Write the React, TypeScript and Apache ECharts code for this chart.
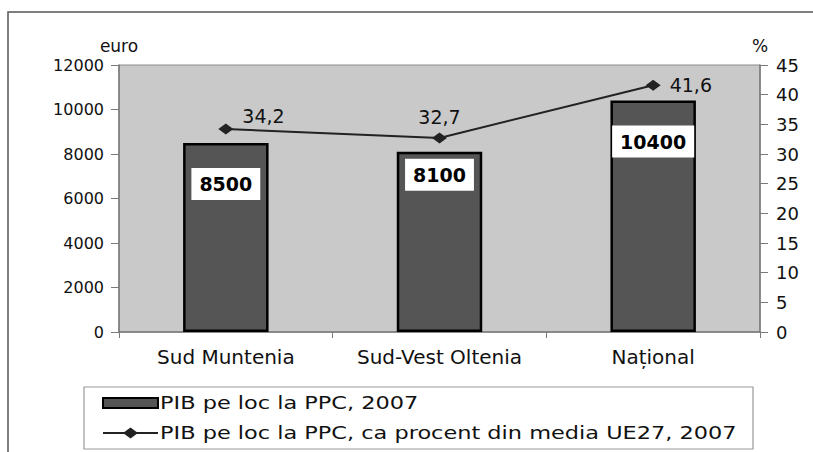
import React, { useEffect, useRef } from "react";
import * as echarts from "echarts";

const categories = ["Sud Muntenia", "Sud-Vest Oltenia", "Național"];
const gdpValues = [8500, 8100, 10400];
const pctValues = [34.2, 32.7, 41.6];
const leftTicks = { min: 0, max: 12000, interval: 2000 };
const rightTicks = { min: 0, max: 45, interval: 5 };
const barName = "PIB pe loc la PPC, 2007";
const lineName = "PIB pe loc la PPC, ca procent din media UE27, 2007";
const leftUnit = "euro";
const rightUnit = "%";

const FONT = "DejaVu Sans";

const barLabelDistances = [25, 7, 25];
const lineLabelStyles = [
  { position: "right", distance: 9, offset: [0, -13] },
  { position: "top", distance: 6, offset: [0, 0] },
  { position: "right", distance: 9, offset: [0, 0] },
];

const BAR_COLOR = "#555555";
const LINE_COLOR = "#222222";

export default function App() {
  const ref = useRef<HTMLDivElement>(null);
  useEffect(() => {
    if (!ref.current) return;
    const chart = echarts.init(ref.current, undefined, { renderer: "svg" });
    const axisColor = "#7a7a7a";
    const legendTextStyle = { fontFamily: FONT, fontSize: 17, fill: "#111", verticalAlign: "middle" };
    chart.setOption({
      animation: false,
      backgroundColor: "#ffffff",
      textStyle: { fontFamily: FONT },
      grid: {
        left: 119,
        right: 53,
        top: 65,
        bottom: 120,
        show: true,
        backgroundColor: "#c9c9c9",
        borderColor: "#8a8a8a",
        borderWidth: 1,
      },
      graphic: [
        {
          type: "rect",
          z: -10,
          shape: { x: 8, y: 12, width: 830, height: 470 },
          style: { fill: "none", stroke: "#555", lineWidth: 1.5 },
        },
        {
          type: "group",
          z: 10,
          children: [
            {
              type: "rect",
              shape: { x: 84, y: 387, width: 669, height: 62 },
              style: { fill: "#fff", stroke: "#999", lineWidth: 1.2 },
            },
            {
              type: "rect",
              shape: { x: 103, y: 398, width: 55, height: 10 },
              style: { fill: BAR_COLOR, stroke: "#000", lineWidth: 2 },
            },
            {
              type: "text",
              x: 160,
              y: 403,
              scaleX: 1.32,
              style: { ...legendTextStyle, text: barName },
            },
            {
              type: "line",
              shape: { x1: 103, y1: 433, x2: 158, y2: 433 },
              style: { stroke: LINE_COLOR, lineWidth: 2 },
            },
            {
              type: "polygon",
              shape: { points: [[123, 433], [130.5, 427.5], [138, 433], [130.5, 438.5]] },
              style: { fill: LINE_COLOR },
            },
            {
              type: "text",
              x: 160,
              y: 433,
              scaleX: 1.32,
              style: { ...legendTextStyle, text: lineName },
            },
          ],
        },
      ],
      xAxis: {
        type: "category",
        data: categories,
        axisLine: { lineStyle: { color: axisColor, width: 1.5 } },
        axisTick: { show: true, length: 6, lineStyle: { color: axisColor } },
        axisLabel: { fontFamily: FONT, fontSize: 20, color: "#111", margin: 15, interval: 0, hideOverlap: false },
        splitLine: { show: false },
      },
      yAxis: [
        {
          type: "value",
          ...leftTicks,
          position: "left",
          name: leftUnit,
          nameLocation: "end",
          nameGap: 11,
          nameTextStyle: { fontFamily: FONT, fontSize: 17, color: "#111" },
          axisLine: { show: true, lineStyle: { color: axisColor, width: 1.5 } },
          axisTick: { show: true, length: 8, lineStyle: { color: axisColor } },
          axisLabel: {
            fontFamily: FONT,
            fontSize: 16,
            color: "#111",
            margin: 15,
            formatter: (v: number) => String(v),
          },
          splitLine: { show: false },
        },
        {
          type: "value",
          ...rightTicks,
          position: "right",
          name: rightUnit,
          nameLocation: "end",
          nameGap: 11,
          nameTextStyle: { fontFamily: FONT, fontSize: 17, color: "#111" },
          axisLine: { show: true, lineStyle: { color: axisColor, width: 1.5 } },
          axisTick: { show: true, length: 8, lineStyle: { color: axisColor } },
          axisLabel: { fontFamily: FONT, fontSize: 18, color: "#111", margin: 16 },
          splitLine: { show: false },
        },
      ],
      series: [
        {
          name: barName,
          type: "bar",
          yAxisIndex: 0,
          barWidth: "40%",
          itemStyle: { color: BAR_COLOR, borderColor: "#000000", borderWidth: 2.5 },
          data: gdpValues.map((v, i) => ({
            value: v,
            label: {
              show: true,
              position: "insideTop",
              distance: barLabelDistances[i],
              backgroundColor: "#ffffff",
              padding: [7, 8, 6, 8],
              fontFamily: FONT,
              fontWeight: "bold",
              fontSize: 19,
              color: "#000",
            },
          })),
        },
        {
          name: lineName,
          type: "line",
          yAxisIndex: 1,
          symbol: "diamond",
          symbolSize: [15, 11],
          itemStyle: { color: LINE_COLOR },
          lineStyle: { color: LINE_COLOR, width: 2 },
          data: pctValues.map((v, i) => ({
            value: v,
            label: {
              show: true,
              position: lineLabelStyles[i].position,
              distance: lineLabelStyles[i].distance,
              offset: lineLabelStyles[i].offset,
              fontFamily: FONT,
              fontSize: 19,
              color: "#111",
              formatter: (p: any) => Number(p.value).toFixed(1).replace(".", ","),
            },
          })),
        },
      ],
    });
    return () => chart.dispose();
  }, []);
  return (
    <div
      ref={ref}
      style={{ position: "fixed", left: 0, top: 0, width: 813, height: 452, background: "#fff" }}
    />
  );
}
